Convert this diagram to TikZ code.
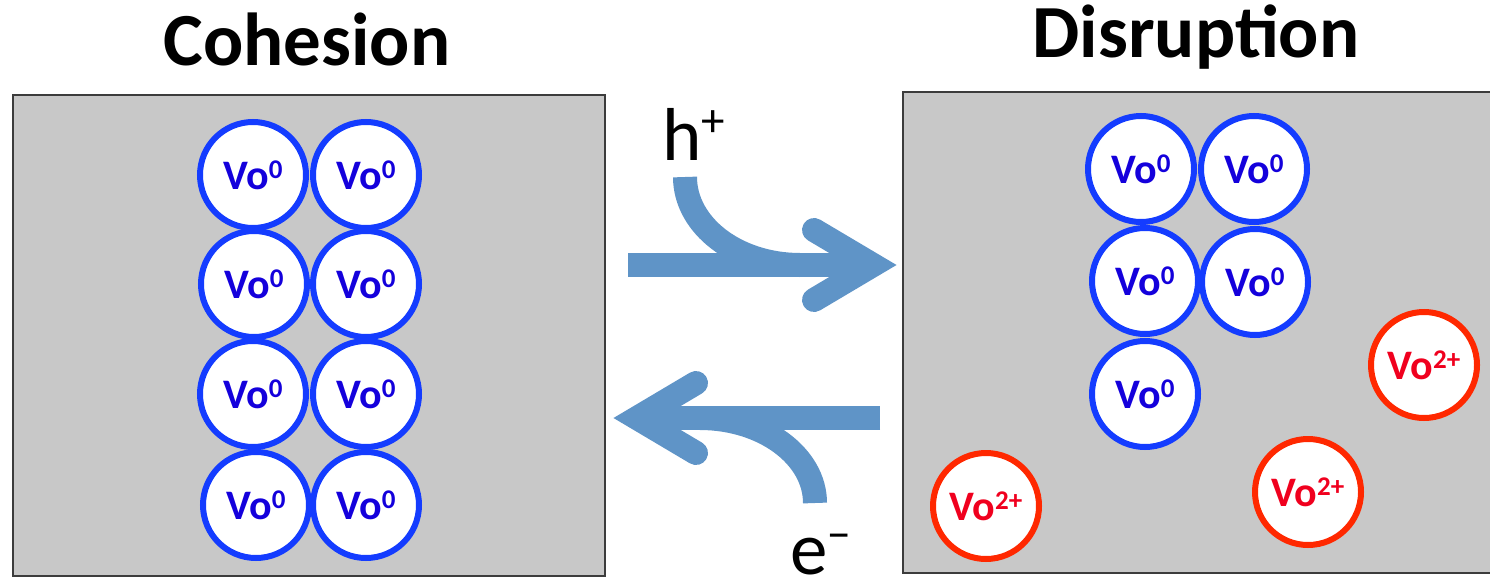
\documentclass[tikz,border=0pt]{standalone}
\usepackage{fontspec}
\setmainfont{Carlito}
\definecolor{boxgray}{RGB}{200,200,200}
\definecolor{boxline}{RGB}{60,60,60}
\definecolor{vblue}{RGB}{20,60,255}
\definecolor{vtblue}{RGB}{20,0,220}
\definecolor{vred}{RGB}{255,40,0}
\definecolor{vtred}{RGB}{240,0,30}
\definecolor{arrcol}{RGB}{95,148,199}
\newcommand{\vsup}[1]{\raisebox{11pt}{\fontsize{27}{27}\selectfont #1}}
\newcommand{\lsup}[1]{\raisebox{24pt}{\fontsize{47}{47}\selectfont #1}}
\begin{document}
\begin{tikzpicture}[x=1pt,y=-1pt,
  panel/.style={draw=boxline, line width=2.5pt, fill=boxgray},
  vac/.style={circle, line width=6pt, fill=white, minimum size=106pt, inner sep=0pt,
    font=\fontsize{42}{42}\selectfont\bfseries},
  vzero/.style={vac, draw=vblue, text=vtblue},
  vtwo/.style={vac, draw=vred, text=vtred},
  title/.style={font=\fontsize{75}{80}\selectfont\bfseries, anchor=base},
  lab/.style={font=\fontsize{75}{80}\selectfont, anchor=base west, inner sep=0pt},
  flow/.style={draw=arrcol, line width=24pt},
  flowhead/.style={draw=arrcol, line width=24pt, line cap=round, line join=miter, miter limit=20},
]
\useasboundingbox (0,0) rectangle (1490,586);
\clip (0,0) rectangle (1490,586);
% panels
\draw[panel] (13,95) rectangle (605,576);
\draw[panel] (903,92) rectangle (1510,573);
% titles
\node[title] (tl) at (307,66) {Cohesion};
\node[title] (tr) at (1196,58) {Disruption};
% left cluster
\node[vzero] (l11) at (253,175) {Vo\vsup{0}};
\node[vzero] (l12) at (366,175) {Vo\vsup{0}};
\node[vzero] (l21) at (254,284) {Vo\vsup{0}};
\node[vzero] (l22) at (366,284) {Vo\vsup{0}};
\node[vzero] (l31) at (253,394) {Vo\vsup{0}};
\node[vzero] (l32) at (366,394) {Vo\vsup{0}};
\node[vzero] (l41) at (256,505) {Vo\vsup{0}};
\node[vzero] (l42) at (366,505) {Vo\vsup{0}};
% right cluster
\node[vzero] (r11) at (1141,169) {Vo\vsup{0}};
\node[vzero] (r12) at (1254,169) {Vo\vsup{0}};
\node[vzero] (r21) at (1145,281) {Vo\vsup{0}};
\node[vzero] (r22) at (1255,282) {Vo\vsup{0}};
\node[vzero] (r31) at (1145,394) {Vo\vsup{0}};
\node[vtwo] (q1) at (986,506) {Vo\vsup{2+}};
\node[vtwo] (q2) at (1308,492) {Vo\vsup{2+}};
\node[vtwo] (q3) at (1424,365) {Vo\vsup{2+}};
% forward arrow (h+)
\coordinate (fs) at (628,265);
\coordinate (ft) at (873,265);
\coordinate (fa) at (814,230);
\coordinate (fb) at (814,300);
\coordinate (fc) at (685,177);
\draw[flow] (fs) -- (ft);
\draw[flow] (fc) arc[start angle=180, end angle=90, x radius=115, y radius=88];
\draw[flowhead] (fa) -- (ft) -- (fb);
% backward arrow (e-)
\coordinate (bs) at (880,418);
\coordinate (bt) at (637,418);
\coordinate (ba) at (696,383);
\coordinate (bb) at (696,453);
\coordinate (bc) at (815,503);
\draw[flow] (bs) -- (bt);
\draw[flow] (bc) arc[start angle=0, end angle=-90, x radius=115, y radius=85];
\draw[flowhead] (ba) -- (bt) -- (bb);
% labels
\node[lab] (hp) at (662,160) {h\lsup{+}};
\node[lab] (em) at (790,574) {e\lsup{\char"2212}};
\end{tikzpicture}
\end{document}
